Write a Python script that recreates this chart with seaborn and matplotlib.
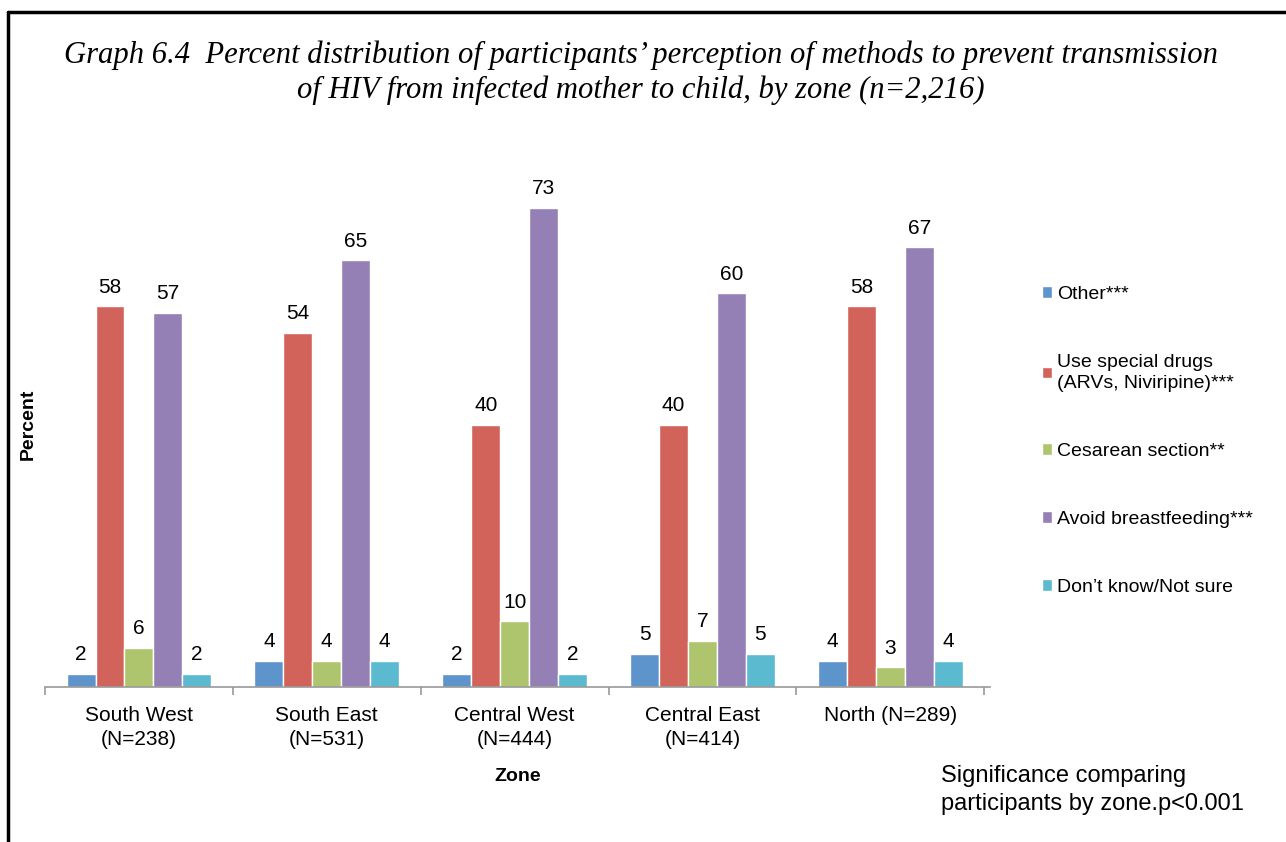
import pandas as pd
import seaborn as sns
import matplotlib.pyplot as plt
from matplotlib.lines import Line2D

# Data
zones = ['South West\n(N=238)', 'South East\n(N=531)', 'Central West\n(N=444)',
         'Central East\n(N=414)', 'North (N=289)']
methods = ['Other***', 'Use special drugs\n(ARVs, Niviripine)***', 'Cesarean section**',
           'Avoid breastfeeding***', 'Don\u2019t know/Not sure']
other = [2, 4, 2, 5, 4]
drugs = [58, 54, 40, 40, 58]
cesarean = [6, 4, 10, 7, 3]
avoid_bf = [57, 65, 73, 60, 67]
dont_know = [2, 4, 2, 5, 4]
colors = ['#5E94CC', '#D1635B', '#AEC46D', '#9580B6', '#5BBAD0']

rows = []
for m, vals in zip(methods, [other, drugs, cesarean, avoid_bf, dont_know]):
    for z, v in zip(zones, vals):
        rows.append({'zone': z, 'method': m, 'value': v})
df = pd.DataFrame(rows)

sns.set_style('white')
plt.rcParams['font.family'] = ['Liberation Sans', 'DejaVu Sans']
plt.rcParams['text.color'] = 'black'
plt.rcParams['axes.labelcolor'] = 'black'
plt.rcParams['xtick.color'] = 'black'

fig = plt.figure(figsize=(12.86, 8.42), dpi=100)
ax = fig.add_axes([45/1286, 1-687/842, (990-45)/1286, (687-162)/842])

sns.barplot(data=df, x='zone', y='value', hue='method', palette=colors,
            width=0.77, ax=ax, saturation=1, errorbar=None)

for c in ax.containers:
    ax.bar_label(c, padding=7, fontsize=15, color='black')

ax.set_ylim(0, 80)
ax.set_xlim(-0.5, 4.53)
ax.set_yticks([])
ax.set_xticks(range(5))
ax.set_xticklabels(zones, fontsize=15, linespacing=1.3)
ax.set_xticks([i - 0.5 for i in range(6)], minor=True)
ax.tick_params(axis='x', which='major', length=0, pad=14)
ax.tick_params(axis='x', which='minor', bottom=True, length=6, color='#999999', width=1.2, direction='out')
for s in ['top', 'right', 'left']:
    ax.spines[s].set_visible(False)
ax.spines['bottom'].set_color('#999999')
ax.spines['bottom'].set_linewidth(1.2)
ax.set_xlabel('Zone', fontsize=14, fontweight='bold', labelpad=14)
ax.set_ylabel('Percent', fontsize=14, fontweight='bold', labelpad=6)

handles, labels = ax.get_legend_handles_labels()
ax.get_legend().remove()
leg = fig.legend(handles, labels, loc='upper left', bbox_to_anchor=(1032/1286, 1-276/842),
                 frameon=False, fontsize=14, handlelength=0.55, handleheight=0.55,
                 handletextpad=0.25, labelspacing=2.62, borderpad=0)
for t in leg.get_texts():
    t.set_linespacing(1.35)

fig.text(641/1286, 1-55/842,
         'Graph 6.4  Percent distribution of participants\u2019 perception of methods to prevent transmission',
         ha='center', va='center', fontsize=22.1, style='italic', family='Liberation Serif')
fig.text(641/1286, 1-90/842,
         'of HIV from infected mother to child, by zone (n=2,216)',
         ha='center', va='center', fontsize=22.1, style='italic', family='Liberation Serif')

fig.text(941/1286, 1-790/842, 'Significance comparing\nparticipants by zone.p<0.001',
         ha='left', va='center', fontsize=17, linespacing=1.35)

# frame lines at top and left of the figure
fig.add_artist(Line2D([8/1286, 1], [1-12/842, 1-12/842], color='black', lw=2.5))
fig.add_artist(Line2D([8/1286, 8/1286], [0, 1-12/842], color='black', lw=2.5))

fig.savefig('out.png', dpi=100)
